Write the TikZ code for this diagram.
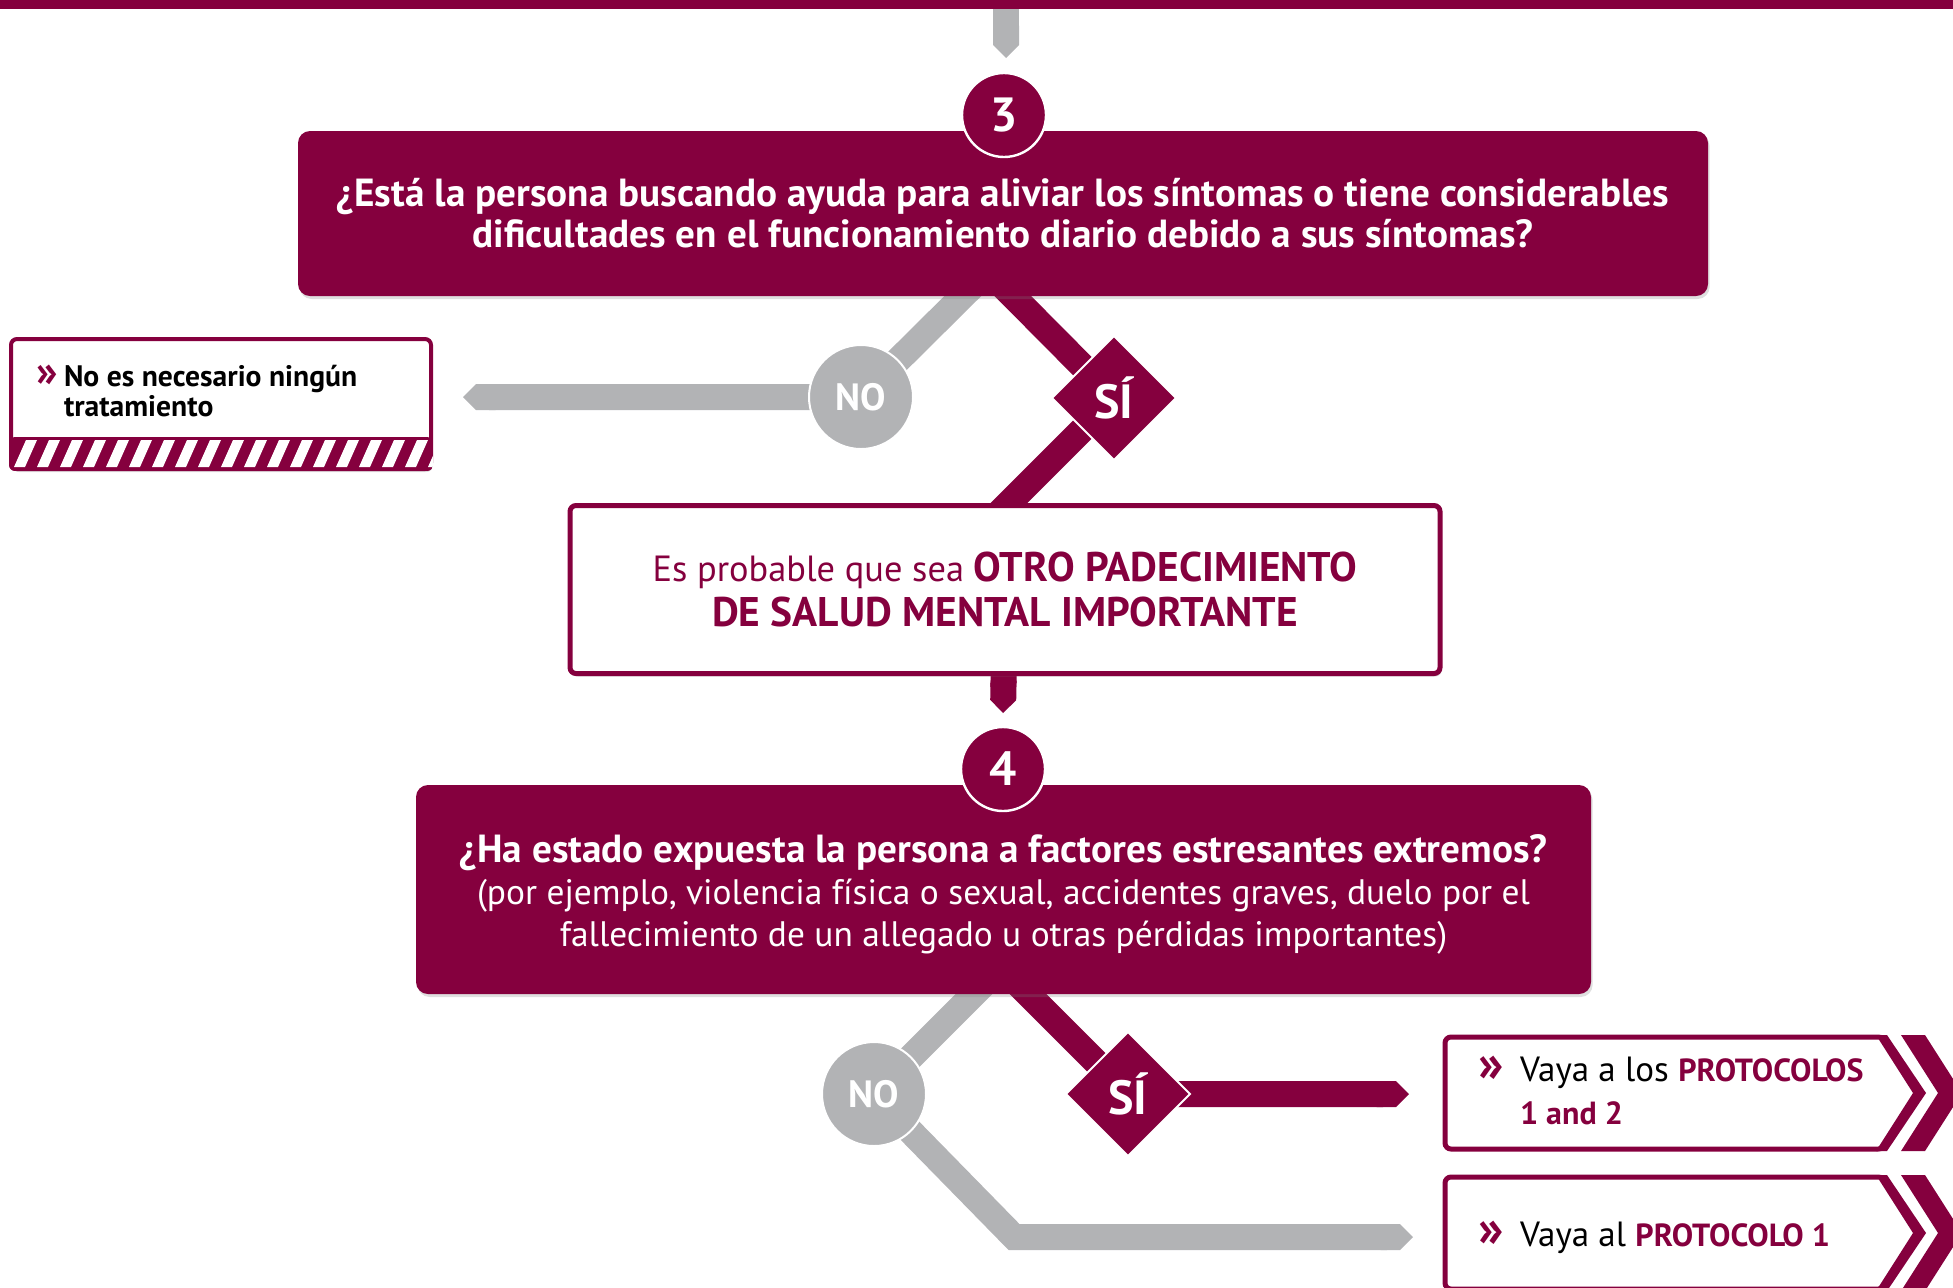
\documentclass[tikz,border=0pt]{standalone}
\usepackage{fontspec}
\setmainfont{PT Sans}
\usepackage{xcolor}
\usepackage{tikz}
\usetikzlibrary{arrows.meta,positioning,shapes.geometric,shadows,backgrounds}
\definecolor{PMaroon}{HTML}{85003E}
\definecolor{PGray}{HTML}{B2B3B5}
\newcommand{\gomark}[1]{\textcolor{PMaroon}{\fontsize{#1}{#1}\selectfont\bfseries »}}
\newcommand{\prot}[1]{\textcolor{PMaroon}{\fontsize{16}{21.5}\selectfont\bfseries #1}}
\newcommand{\bigbf}[2]{{\fontsize{#1}{21}\selectfont\bfseries #2}}

\begin{document}
\begin{tikzpicture}[
  x=0.5pt,y=-0.5pt,
  every node/.style={inner sep=0pt,outer sep=0pt},
  question/.style={fill=PMaroon,rounded corners=6pt,text=white,align=center,
    font=\fontsize{17.7}{21}\selectfont,
    drop shadow={shadow xshift=.8pt,shadow yshift=-1.5pt,opacity=.25}},
  outcome/.style={draw=PMaroon,line width=2.5pt,fill=white,rounded corners=3pt,
    align=center,text=PMaroon,
    drop shadow={shadow xshift=.8pt,shadow yshift=-1.5pt,opacity=.25}},
  stepnum/.style={circle,fill=PMaroon,draw=white,line width=1.2pt,
    minimum size=42pt,text=white,font=\bfseries\fontsize{24}{24}\selectfont},
  nobub/.style={circle,fill=PGray,draw=white,line width=1pt,
    minimum size=52pt,text=white,font=\bfseries\fontsize{19}{19}\selectfont},
  sibub/.style={diamond,fill=PMaroon,draw=white,line width=1pt,
    minimum size=62pt,text=white,font=\bfseries\fontsize{24}{24}\selectfont},
  yes/.style={draw=PMaroon,line width=13pt,-{Triangle Cap}},
  nope/.style={draw=PGray,line width=13pt,-{Triangle Cap}}
]
  \useasboundingbox (0,0) rectangle (1953,1287);
  \fill[PMaroon] (0,0) rectangle (1953,9);

  % step 3
  \node[question,minimum width=705pt,minimum height=82.5pt,
    font=\bfseries\fontsize{19.6}{20.5}\selectfont] (q3) at (1003,213.5)
    {¿Está la persona buscando ayuda para aliviar los síntomas o tiene considerables\\
     dificultades en el funcionamiento diario debido a sus síntomas?};
  \node[stepnum] (n3) at (1004,115) {3};
  \node[nobub] (no3) at (861,397) {NO};
  \node[sibub] (si3) at (1114,398) {SÍ};

  \node[outcome,minimum width=210pt,minimum height=65pt,line width=2pt] (nada) at (221,404) {};
  \begin{scope}
    \clip[rounded corners=3pt] (9,437) rectangle (433,471);
    \fill[PMaroon] (9,437) rectangle (433,471);
    \foreach \s in {0,...,18}
      \fill[white] (14+23*\s,467) -- ++(11,0) -- ++(12,-27) -- ++(-11,0) -- cycle;
  \end{scope}
  \node[anchor=west,font=\bfseries\fontsize{14.8}{15}\selectfont] (nadatxt) at (36,395)
    {\begin{tabular}{@{}p{14pt}@{}l@{}}\gomark{22} & No es necesario ningún\\ & tratamiento\end{tabular}};

  \node[outcome,minimum width=435pt,minimum height=84pt,
    font=\fontsize{18.2}{22.5}\selectfont] (otro) at (1005,589.5)
    {Es probable que sea \bigbf{20.7}{OTRO PADECIMIENTO}\\\bigbf{20.7}{DE SALUD MENTAL IMPORTANTE}};

  % step 4
  \node[question,minimum width=587.5pt,minimum height=104.5pt] (q4) at (1003.5,889.5)
    {\rule{0pt}{19pt}\bigbf{19.6}{¿Ha estado expuesta la persona a factores estresantes extremos?}\\
     (por ejemplo, violencia física o sexual, accidentes graves, duelo por el\\
     fallecimiento de un allegado u otras pérdidas importantes)};
  \node[stepnum] (n4) at (1003,769) {4};
  \node[nobub] (no4) at (874,1094) {NO};
  \node[sibub] (si4) at (1128,1094) {SÍ};

  \foreach \dy in {0,140}{
    \begin{scope}[shift={(0,\dy)}]
      \draw[PMaroon,line width=2.5pt,fill=white,rounded corners=3pt]
        (1884,1037) -- (1445,1037) -- (1445,1149) -- (1884,1149) -- (1922,1093) -- cycle;
      \fill[PMaroon] (1876,1035) -- (1887,1035) -- (1926,1093) -- (1887,1151)
        -- (1876,1151) -- (1913,1093) -- cycle;
      \fill[PMaroon] (1901,1035) -- (1925,1035) -- (1962,1093) -- (1925,1151)
        -- (1901,1151) -- (1938,1093) -- cycle;
    \end{scope}
  }
  \node[anchor=west,font=\fontsize{17.5}{21.5}\selectfont] (p12) at (1478,1094)
    {\begin{tabular}{@{}p{21pt}@{}l@{}}\gomark{26} & Vaya a los \prot{PROTOCOLOS}\\ & \prot{1 and 2}\end{tabular}};
  \node[anchor=west,font=\fontsize{17.5}{21.5}\selectfont] (p1) at (1478,1238)
    {\begin{tabular}{@{}p{21pt}@{}l@{}}\gomark{26} & Vaya al \prot{PROTOCOLO 1}\end{tabular}};

  \coordinate (entry) at (1006,0);
  \coordinate (in3) at (1006,58);
  \coordinate (split3) at (988,271);
  \coordinate (out3no) at (463,397);
  \coordinate (in3si) at (985,527);
  \coordinate (in4) at (1003,713);
  \coordinate (split4) at (1001,967);
  \coordinate (bend4) at (1014,1237);
  \coordinate (out4no) at (1413,1237);
  \coordinate (out4si) at (1409,1094);

  \begin{pgfonlayer}{background}
    \draw[nope] (entry) -- (in3);
    \draw[nope] (split3) -- (no3.center) -- (out3no);
    \draw[yes,-] (split3) -- (si3.center) -- (in3si);
    \draw[yes] (otro) -- (in4);
    \draw[nope] (split4) -- (no4.center) -- (bend4) -- (out4no);
    \draw[yes] (split4) -- (si4.center) -- (out4si);
  \end{pgfonlayer}
\end{tikzpicture}
\end{document}
